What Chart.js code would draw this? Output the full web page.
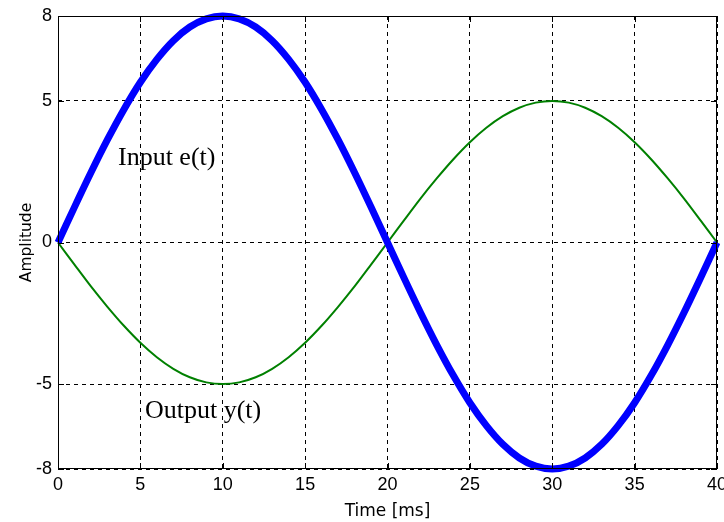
<!DOCTYPE html>
<html lang="en">
<head>
<meta charset="UTF-8">
<title>Input / Output</title>
<script src="https://cdn.jsdelivr.net/npm/chart.js"></script>
<style>
  html, body { margin: 0; padding: 0; background: #fff; }
  .wrap { width: 724px; height: 522px; }
</style>
</head>
<body>
<div class="wrap"><canvas id="myChart" width="724" height="522"></canvas></div>
<script>
// time axis in ms, one reading per ms
var tempo = [0,1,2,3,4,5,6,7,8,9,10,11,12,13,14,15,16,17,18,19,20,
             21,22,23,24,25,26,27,28,29,30,31,32,33,34,35,36,37,38,39,40];

// input e(t), blue thick curve
var entrada = [0,1.25,2.47,3.63,4.70,5.66,6.47,7.13,7.61,7.90,8.00,
               7.90,7.61,7.13,6.47,5.66,4.70,3.63,2.47,1.25,0,
               -1.25,-2.47,-3.63,-4.70,-5.66,-6.47,-7.13,-7.61,-7.90,-8.00,
               -7.90,-7.61,-7.13,-6.47,-5.66,-4.70,-3.63,-2.47,-1.25,0];

// output y(t), green thin curve
var saida = [0,-0.78,-1.55,-2.27,-2.94,-3.54,-4.05,-4.46,-4.76,-4.94,-5.00,
             -4.94,-4.76,-4.46,-4.05,-3.54,-2.94,-2.27,-1.55,-0.78,0,
             0.78,1.55,2.27,2.94,3.54,4.05,4.46,4.76,4.94,5.00,
             4.94,4.76,4.46,4.05,3.54,2.94,2.27,1.55,0.78,0];

var ticks_y = [-8, -5, 0, 5, 8];
var ticks_x = [0, 5, 10, 15, 20, 25, 30, 35, 40];

// text labels placed at data coords (baseline)
var rotulos = [
  { texto: 'Input e(t)', x: 3.64, y: 2.74 },
  { texto: 'Output y(t)', x: 5.28, y: -6.2 }
];

function pares(xs, ys) {
  var out = [];
  for (var i = 0; i < xs.length; i++) {
    out.push({ x: xs[i], y: ys[i] });
  }
  return out;
}

// box around plot + small inner tick marks + text labels
const moldura = {
  id: 'moldura',
  afterDatasetsDraw(chart) {
    const ctx = chart.ctx;
    const a = chart.chartArea;
    const sx = chart.scales.x, sy = chart.scales.y;
    ctx.save();
    ctx.strokeStyle = '#000';
    ctx.lineWidth = 1;
    ctx.setLineDash([]);
    ctx.strokeRect(a.left + 0.5, a.top + 0.5, a.right - a.left - 1, a.bottom - a.top - 1);
    ctx.beginPath();
    ticks_x.forEach(function (v) {
      var px = Math.round(sx.getPixelForValue(v)) + 0.5;
      ctx.moveTo(px, a.bottom); ctx.lineTo(px, a.bottom - 6);
      ctx.moveTo(px, a.top); ctx.lineTo(px, a.top + 6);
    });
    ticks_y.forEach(function (v) {
      var py = Math.round(sy.getPixelForValue(v)) + 0.5;
      ctx.moveTo(a.left, py); ctx.lineTo(a.left + 6, py);
      ctx.moveTo(a.right, py); ctx.lineTo(a.right - 6, py);
    });
    ctx.stroke();

    ctx.fillStyle = '#000';
    ctx.font = '26px "Liberation Serif", "Times New Roman", serif';
    ctx.textBaseline = 'alphabetic';
    ctx.textAlign = 'left';
    rotulos.forEach(function (r) {
      ctx.fillText(r.texto, sx.getPixelForValue(r.x), sy.getPixelForValue(r.y));
    });
    ctx.restore();
  }
};

const ctx = document.getElementById('myChart');

new Chart(ctx, {
  type: 'scatter',
  data: {
    datasets: [
      {
        label: 'Input e(t)',
        data: pares(tempo, entrada),
        showLine: true,
        borderColor: '#0000ff',
        borderWidth: 7,
        pointRadius: 0,
        tension: 0.3,
        clip: 8
      },
      {
        label: 'Output y(t)',
        data: pares(tempo, saida),
        showLine: true,
        borderColor: '#008000',
        borderWidth: 2,
        pointRadius: 0,
        tension: 0.3,
        clip: 8
      }
    ]
  },
  options: {
    responsive: false,
    animation: false,
    layout: { padding: { left: 0, top: 16, right: 7, bottom: 0 } },
    plugins: {
      legend: { display: false },
      tooltip: { enabled: false }
    },
    scales: {
      x: {
        type: 'linear',
        min: 0,
        max: 40,
        afterBuildTicks: function (s) { s.ticks = ticks_x.map(function (v) { return { value: v }; }); },
        afterFit: function (s) { s.height = 53; s.paddingLeft = 0; s.paddingRight = 0; },
        grid: {
          color: '#000',
          lineWidth: 1,
          drawTicks: false,
          tickLength: 0
        },
        border: { display: false, dash: [4, 4] },
        ticks: {
          color: '#000',
          padding: 5,
          maxRotation: 0,
          font: { family: 'Liberation Sans', size: 18 }
        },
        title: {
          display: true,
          text: 'Time [ms]',
          color: '#000',
          padding: { top: 0, bottom: 0 },
          font: { family: 'DejaVu Sans', size: 17 }
        }
      },
      y: {
        type: 'linear',
        min: -8,
        max: 8,
        afterBuildTicks: function (s) { s.ticks = ticks_y.map(function (v) { return { value: v }; }); },
        afterFit: function (s) { s.width = 58; s.paddingTop = 0; s.paddingBottom = 0; },
        grid: {
          color: '#000',
          lineWidth: 1,
          drawTicks: false,
          tickLength: 0
        },
        border: { display: false, dash: [4, 4] },
        ticks: {
          color: '#000',
          padding: 6,
          font: { family: 'Liberation Sans', size: 18 }
        },
        title: {
          display: true,
          text: 'Amplitude',
          color: '#000',
          padding: { top: 18, bottom: 4 },
          font: { family: 'DejaVu Sans', size: 15.5 }
        }
      }
    }
  },
  plugins: [moldura]
});
</script>
</body>
</html>
